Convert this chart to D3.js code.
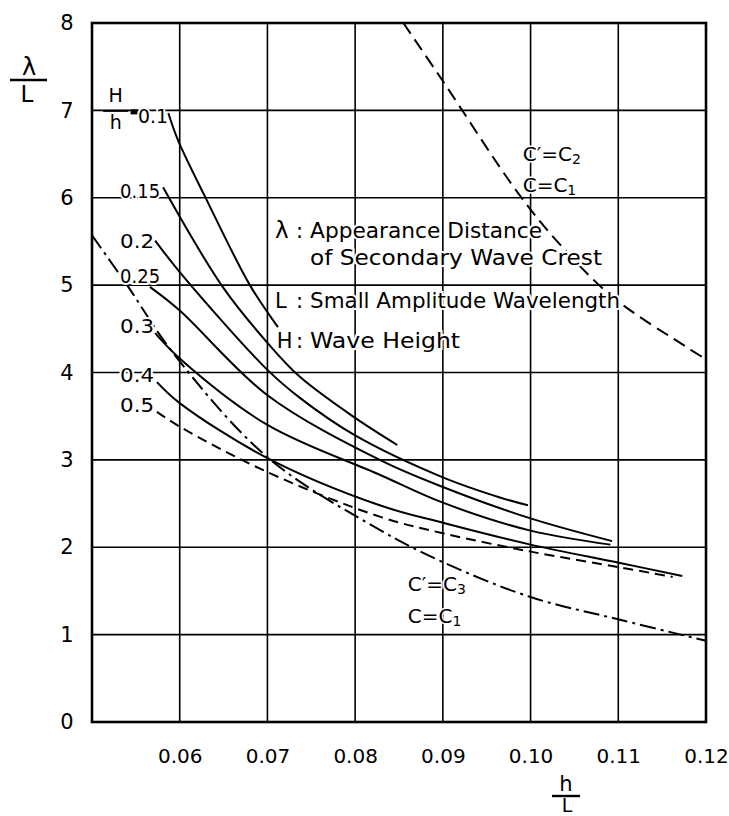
<!DOCTYPE html>
<html>
<head>
<meta charset="utf-8">
<script src="https://cdn.jsdelivr.net/npm/d3@7"></script>
<style>
    body { margin: 0; background: #fff; }
    svg { display: block; font-family: 'DejaVu Sans', sans-serif; }
</style>
</head>
<body>
<svg id="chart"></svg>
<script>
// axis ticks
const xTicks = [0.06, 0.07, 0.08, 0.09, 0.10, 0.11, 0.12];
const xTickLabels = ['0.06', '0.07', '0.08', '0.09', '0.10', '0.11', '0.12'];
const yTicks = [0, 1, 2, 3, 4, 5, 6, 7, 8];
const yTickLabels = ['0', '1', '2', '3', '4', '5', '6', '7', '8'];

// lambda/L against h/L, one curve per H/h
const ratioLabels = ['0.1', '0.15', '0.2', '0.25', '0.3', '0.4', '0.5'];
const curve010 = [[0.0587, 6.97], [0.0598, 6.66], [0.0629, 6.01], [0.0680, 5.00], [0.0712, 4.52]];
const curve015 = [[0.0581, 6.12], [0.0649, 4.98], [0.0700, 4.34], [0.0737, 3.95], [0.0800, 3.48], [0.0848, 3.17]];
const curve020 = [[0.0572, 5.51], [0.0600, 5.15], [0.0700, 4.03], [0.0737, 3.71], [0.0800, 3.28], [0.0900, 2.80], [0.0965, 2.57], [0.0997, 2.48]];
const curve025 = [[0.0566, 4.98], [0.0600, 4.71], [0.0700, 3.74], [0.0828, 3.00], [0.0900, 2.69], [0.1000, 2.33], [0.1093, 2.07]];
const curve030 = [[0.0572, 4.45], [0.0600, 4.16], [0.0700, 3.40], [0.0828, 2.83], [0.0900, 2.51], [0.1000, 2.19], [0.1091, 2.03]];
const curve040 = [[0.0574, 3.89], [0.0600, 3.65], [0.0700, 3.02], [0.0828, 2.48], [0.0900, 2.28], [0.1000, 2.03], [0.1102, 1.82], [0.1173, 1.67]];
const curve050 = [[0.0574, 3.55], [0.0600, 3.38], [0.0700, 2.86], [0.0828, 2.35], [0.0900, 2.16], [0.1000, 1.95], [0.1102, 1.77], [0.1162, 1.66]];

// limiting curves
const curveC2 = [[0.0855, 8.00], [0.0899, 7.35], [0.0986, 6.05], [0.1034, 5.46], [0.1094, 4.86], [0.1178, 4.29], [0.1200, 4.15]];
const curveC3 = [[0.0500, 5.57], [0.0540, 5.00], [0.0592, 4.23], [0.0700, 3.03], [0.0828, 2.20], [0.0900, 1.83], [0.1000, 1.43], [0.1102, 1.17], [0.1200, 0.93]];

const margin = {top: 23, right: 23, bottom: 94, left: 92};
const width = 729 - margin.left - margin.right;
const height = 816 - margin.top - margin.bottom;

const x = d3.scaleLinear().domain([0.05, 0.12]).range([0, width]);
const y = d3.scaleLinear().domain([0, 8]).range([height, 0]);

const svg = d3.select('#chart')
    .attr('width', width + margin.left + margin.right)
    .attr('height', height + margin.top + margin.bottom);

const g = svg.append('g')
    .attr('transform', 'translate(' + margin.left + ',' + margin.top + ')');

// grid
g.append('g').selectAll('line')
    .data(xTicks.slice(0, -1))
    .join('line')
    .attr('x1', d => x(d)).attr('x2', d => x(d))
    .attr('y1', 0).attr('y2', height)
    .attr('stroke', '#000').attr('stroke-width', 1.6);

g.append('g').selectAll('line')
    .data(yTicks.slice(1, -1))
    .join('line')
    .attr('x1', 0).attr('x2', width)
    .attr('y1', d => y(d)).attr('y2', d => y(d))
    .attr('stroke', '#000').attr('stroke-width', 1.6);

// axes, labels only
const xAxis = d3.axisBottom(x)
    .tickValues(xTicks)
    .tickFormat((d, i) => xTickLabels[i])
    .tickSize(0)
    .tickPadding(27);

const yAxis = d3.axisLeft(y)
    .tickValues(yTicks)
    .tickFormat((d, i) => yTickLabels[i])
    .tickSize(0);

g.append('g')
    .attr('transform', 'translate(0,' + height + ')')
    .call(xAxis)
    .call(a => a.select('.domain').remove())
    .selectAll('text')
    .attr('font-size', 20)
    .attr('font-family', 'DejaVu Sans')
    .attr('fill', '#000');

g.append('g')
    .call(yAxis)
    .call(a => a.select('.domain').remove())
    .selectAll('text')
    .attr('x', -25)
    .attr('text-anchor', 'middle')
    .attr('font-size', 21)
    .attr('font-family', 'DejaVu Sans')
    .attr('fill', '#000');

// curves
const series = [
    {pts: curve010, dash: null},
    {pts: curve015, dash: null},
    {pts: curve020, dash: null},
    {pts: curve025, dash: null},
    {pts: curve030, dash: null},
    {pts: curve040, dash: null},
    {pts: curve050, dash: '10,6'},
    {pts: curveC2, dash: '13,7'},
    {pts: curveC3, dash: '16,5,3,5'}
];

const line = d3.line()
    .x(d => x(d[0]))
    .y(d => y(d[1]))
    .curve(d3.curveCatmullRom.alpha(0.5));

g.append('g').selectAll('path')
    .data(series)
    .join('path')
    .attr('d', d => line(d.pts))
    .attr('fill', 'none')
    .attr('stroke', '#000')
    .attr('stroke-width', 2)
    .attr('stroke-dasharray', d => d.dash);

// text
const notes = g.append('g').attr('fill', '#000');

function addText(xv, yv, str, size, opts) {
    opts = opts || {};
    const t = notes.append('text')
        .attr('x', x(xv) + (opts.dx || 0))
        .attr('y', y(yv) + (opts.dy || 0))
        .attr('font-size', size)
        .attr('text-anchor', opts.anchor || 'start')
        .attr('stroke', '#fff')
        .attr('stroke-width', opts.halo === undefined ? 4 : opts.halo)
        .attr('paint-order', 'stroke')
        .text(str);
    if (opts.len) t.attr('textLength', opts.len).attr('lengthAdjust', 'spacingAndGlyphs');
    return t;
}

// C'=Cn style label with a real subscript
function addRelation(xv, yv, prime, sub) {
    const t = addText(xv, yv, null, 20, {halo: 3});
    t.append('tspan').text(prime ? 'C′=C' : 'C=C');
    t.append('tspan').attr('font-size', 14).attr('dy', 3).text(sub);
    return t;
}

// H/h curve labels
const labelY = [null, 6.0, 5.42, 5.02, 4.45, 3.89, 3.55];
ratioLabels.forEach((r, i) => {
    if (i === 0) return;
    addText(0.0532, labelY[i], r, 20, {len: r.length === 4 ? 40 : 34});
});

// H/h = 0.1
addText(0.0527, 7.0, 'H', 19, {anchor: 'middle', dy: -8, halo: 3});
notes.append('line')
    .attr('x1', x(0.05125)).attr('x2', x(0.05415))
    .attr('y1', y(7.0) + 0.5).attr('y2', y(7.0) + 0.5)
    .attr('stroke', '#000').attr('stroke-width', 2);
addText(0.0527, 7.0, 'h', 19, {anchor: 'middle', dy: 19, halo: 3});
notes.append('rect')
    .attr('x', x(0.0544)).attr('y', y(7.0) - 1)
    .attr('width', 7).attr('height', 5);
addText(0.05525, 6.86, '0.1', 20, {len: 30});

// legend block
const cx = 0.07087, colon = 0.07326, tx = 0.07486;
addText(cx, 5.54, 'λ', 23);
addText(colon, 5.54, ':', 21);
addText(tx, 5.54, 'Appearance Distance', 21, {len: 232});
addText(tx, 5.23, 'of Secondary Wave Crest', 21, {len: 292});
addText(cx, 4.74, 'L', 21);
addText(colon, 4.74, ':', 21);
addText(tx, 4.74, 'Small Amplitude Wavelength', 21, {len: 310});
addText(cx + 0.0002, 4.28, 'H', 21);
addText(colon, 4.28, ':', 21);
addText(tx, 4.28, 'Wave Height', 21, {len: 150});

// limit labels
addRelation(0.0991, 6.42, true, '2');
addRelation(0.0991, 6.07, false, '1');
addRelation(0.0860, 1.50, true, '3');
addRelation(0.0860, 1.13, false, '1');

// border
g.append('rect')
    .attr('width', width).attr('height', height)
    .attr('fill', 'none')
    .attr('stroke', '#000').attr('stroke-width', 2.6);

// axis titles
const yt = svg.append('g').attr('text-anchor', 'middle').attr('fill', '#000');
yt.append('text').attr('x', 29).attr('y', 75).attr('font-size', 24).text('λ');
yt.append('line').attr('x1', 10).attr('x2', 47).attr('y1', 80).attr('y2', 80)
    .attr('stroke', '#000').attr('stroke-width', 2.4);
yt.append('text').attr('x', 27).attr('y', 102).attr('font-size', 23).text('L');

const xt = svg.append('g').attr('text-anchor', 'middle').attr('fill', '#000');
xt.append('text').attr('x', 566).attr('y', 791).attr('font-size', 21).text('h');
xt.append('line').attr('x1', 552).attr('x2', 580).attr('y1', 796).attr('y2', 796)
    .attr('stroke', '#000').attr('stroke-width', 2.4);
xt.append('text').attr('x', 567).attr('y', 812).attr('font-size', 19).text('L');
</script>
</body>
</html>
